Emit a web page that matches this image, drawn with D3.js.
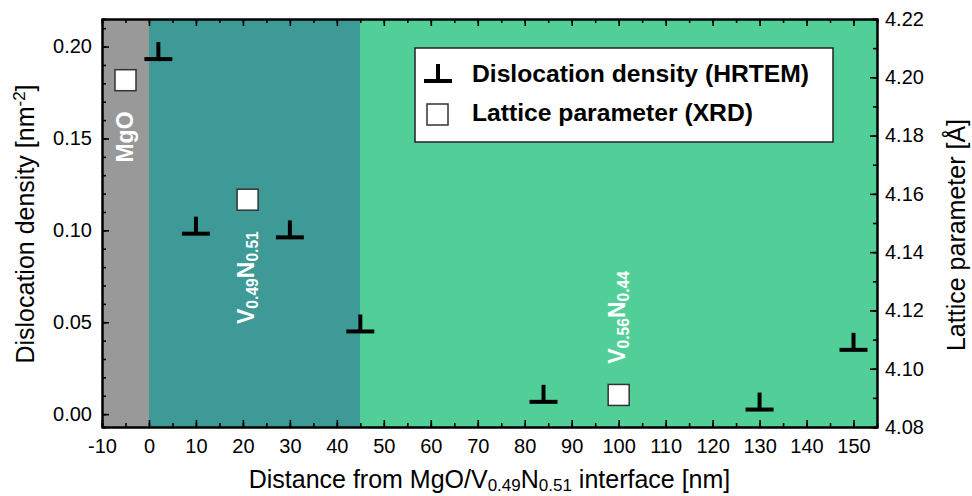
<!DOCTYPE html>
<html>
<head>
<meta charset="utf-8">
<script src="https://cdn.jsdelivr.net/npm/d3@7"></script>
<style>
    html, body { margin: 0; padding: 0; background: #fff; }
    svg text { font-family: "Liberation Sans", Arial, sans-serif; }
    .axis path, .axis line { stroke: #000; }
    .axis path { stroke-width: 2; }
    .axis line { stroke-width: 1.6; }
    .axis text { font-size: 20px; fill: #000; }
</style>
</head>
<body>
<script>
(function(){
    // chart data
    var dislocX = [2, 10, 30, 45, 84, 130, 150];
    var dislocY = [0.197, 0.102, 0.100, 0.0488, 0.0105, 0.0063, 0.0388];
    var latticeX = [-5, 21, 100];
    var latticeY = [4.199, 4.158, 4.091];

    var regionStart = [-10, 0, 45];
    var regionEnd = [0, 45, 155];
    var regionColors = ["#999999", "#3e9a97", "#52cf98"];

    var xTicks = [-10, 0, 10, 20, 30, 40, 50, 60, 70, 80, 90, 100, 110, 120, 130, 140, 150];
    var yTicks = [0.00, 0.05, 0.10, 0.15, 0.20];
    var y2Ticks = [4.08, 4.10, 4.12, 4.14, 4.16, 4.18, 4.20, 4.22];

    var width = 972,
        height = 496,
        left = 102,
        right = 877,
        top = 19,
        bottom = 427;

    var x = d3.scaleLinear().domain([-10, 155]).range([left, right]);
    var y = d3.scaleLinear().domain([-0.007, 0.215]).range([bottom, top]);
    var y2 = d3.scaleLinear().domain([4.08, 4.22]).range([bottom, top]);

    window.onload = draw;

    function draw(){
        var svg = d3.select("body")
            .append("svg")
            .attr("width", width)
            .attr("height", height);

        // shaded regions
        svg.selectAll(".region")
            .data(regionStart)
            .enter()
            .append("rect")
            .attr("class", "region")
            .attr("x", d => Math.round(x(d)))
            .attr("y", top)
            .attr("width", (d, i) => Math.round(x(regionEnd[i])) - Math.round(x(d)))
            .attr("height", bottom - top)
            .attr("shape-rendering", "crispEdges")
            .attr("fill", (d, i) => regionColors[i]);

        drawAxes(svg);
        drawRegionLabels(svg);
        drawPoints(svg);
        drawLegend(svg);
        drawTitles(svg);
    }

    function drawAxes(svg){
        var minorX = d3.range(-10, 156, 5);
        var minorY = d3.range(0, 0.215, 0.01);
        var minorY2 = d3.range(4.08, 4.2201, 0.01);
        var plain = d => String(d);

        // minor ticks first
        addAxis(svg, d3.axisBottom(x).tickValues(minorX).tickSize(-4).tickFormat(""), "translate(0," + bottom + ")");
        addAxis(svg, d3.axisTop(x).tickValues(minorX).tickSize(-4).tickFormat(""), "translate(0," + top + ")");
        addAxis(svg, d3.axisLeft(y).tickValues(minorY).tickSize(-4).tickFormat(""), "translate(" + left + ",0)");
        addAxis(svg, d3.axisRight(y2).tickValues(minorY2).tickSize(-4).tickFormat(""), "translate(" + right + ",0)");

        // major ticks with labels
        addAxis(svg, d3.axisBottom(x).tickValues(xTicks).tickSizeInner(-7).tickSizeOuter(0).tickPadding(12).tickFormat(plain), "translate(0," + bottom + ")");
        addAxis(svg, d3.axisTop(x).tickValues(xTicks).tickSizeInner(-7).tickSizeOuter(0).tickFormat(""), "translate(0," + top + ")");
        addAxis(svg, d3.axisLeft(y).tickValues(yTicks).tickSizeInner(-7).tickSizeOuter(0).tickPadding(10).tickFormat(d => d.toFixed(2)), "translate(" + left + ",0)");
        addAxis(svg, d3.axisRight(y2).tickValues(y2Ticks).tickSizeInner(-7).tickSizeOuter(0).tickPadding(8).tickFormat(d => d.toFixed(2)), "translate(" + right + ",0)");
    }

    function addAxis(svg, axis, transform){
        var g = svg.append("g")
            .attr("class", "axis")
            .attr("transform", transform)
            .call(axis);
        g.attr("font-family", null).attr("font-size", null);
        return g;
    }

    // text with sub/superscripts, parts = [[text, shift, small]]
    function richText(sel, parts, size){
        parts.forEach(function(p){
            var t = sel.append("tspan").text(p[0]);
            if (p[2]) t.attr("font-size", size * 0.68);
            if (p[1] !== 0) t.attr("dy", p[1]);
        });
    }

    function drawRegionLabels(svg){
        var labels = [
            {x: -5, y: 0.1508, parts: [["MgO", 0]]},
            {x: 20.6, y: 0.0743, parts: [["V", 0], ["0.49", 4, true], ["N", -4], ["0.51", 4, true]]},
            {x: 99.6, y: 0.0526, parts: [["V", 0], ["0.56", 4, true], ["N", -4], ["0.44", 4, true]]}
        ];
        labels.forEach(function(l){
            var t = svg.append("text")
                .attr("transform", "translate(" + (x(l.x) + 8) + "," + y(l.y) + ") rotate(-90)")
                .attr("text-anchor", "middle")
                .attr("font-size", 23)
                .attr("font-weight", "bold")
                .attr("fill", "#fff");
            richText(t, l.parts, 23);
        });
    }

    function dislocSymbol(g){
        g.append("line")
            .attr("x1", -14).attr("x2", 14)
            .attr("y1", 7).attr("y2", 7);
        g.append("line")
            .attr("x1", 0).attr("x2", 0)
            .attr("y1", -10).attr("y2", 7);
        g.selectAll("line")
            .attr("stroke", "#000")
            .attr("stroke-width", 4);
    }

    function drawPoints(svg){
        svg.selectAll(".disloc")
            .data(dislocX)
            .enter()
            .append("g")
            .attr("class", "disloc")
            .attr("transform", (d, i) => "translate(" + x(d) + "," + y(dislocY[i]) + ")")
            .each(function(){ dislocSymbol(d3.select(this)); });

        svg.selectAll(".lattice")
            .data(latticeX)
            .enter()
            .append("rect")
            .attr("class", "lattice")
            .attr("x", d => x(d) - 10.5)
            .attr("y", (d, i) => y2(latticeY[i]) - 10.5)
            .attr("width", 21)
            .attr("height", 21)
            .attr("fill", "#fff")
            .attr("stroke", "#333")
            .attr("stroke-width", 1.5);
    }

    function drawLegend(svg){
        var lg = svg.append("g").attr("transform", "translate(415,48)");
        lg.append("rect")
            .attr("width", 418)
            .attr("height", 94)
            .attr("fill", "#fff")
            .attr("stroke", "#222")
            .attr("stroke-width", 1.5);

        dislocSymbol(lg.append("g").attr("transform", "translate(23,26)"));
        lg.append("rect")
            .attr("x", 12).attr("y", 56)
            .attr("width", 21).attr("height", 21)
            .attr("fill", "#fff")
            .attr("stroke", "#333")
            .attr("stroke-width", 1.5);

        var names = ["Dislocation density (HRTEM)", "Lattice parameter (XRD)"];
        lg.selectAll(".legText")
            .data(names)
            .enter()
            .append("text")
            .attr("class", "legText")
            .attr("transform", (d, i) => "translate(57," + (34 + i * 39) + ") scale(1.05,1)")
            .attr("font-size", 23.5)
            .attr("font-weight", "bold")
            .attr("fill", "#000")
            .text(d => d);
    }

    function drawTitles(svg){
        var xt = svg.append("text")
            .attr("x", (left + right) / 2)
            .attr("y", 488)
            .attr("text-anchor", "middle")
            .attr("font-size", 25)
            .attr("fill", "#000");
        richText(xt, [["Distance from MgO/V", 0], ["0.49", 3, true], ["N", -3], ["0.51", 3, true], [" interface [nm]", -3]], 25);

        var yt = svg.append("text")
            .attr("transform", "translate(34,224) rotate(-90)")
            .attr("text-anchor", "middle")
            .attr("font-size", 25)
            .attr("fill", "#000");
        richText(yt, [["Dislocation density [nm", 0], ["-2", -9, true], ["]", 9]], 25);

        svg.append("text")
            .attr("transform", "translate(965,235) rotate(-90)")
            .attr("text-anchor", "middle")
            .attr("font-size", 25)
            .attr("fill", "#000")
            .text("Lattice parameter [Å]");
    }

})();
</script>
</body>
</html>
